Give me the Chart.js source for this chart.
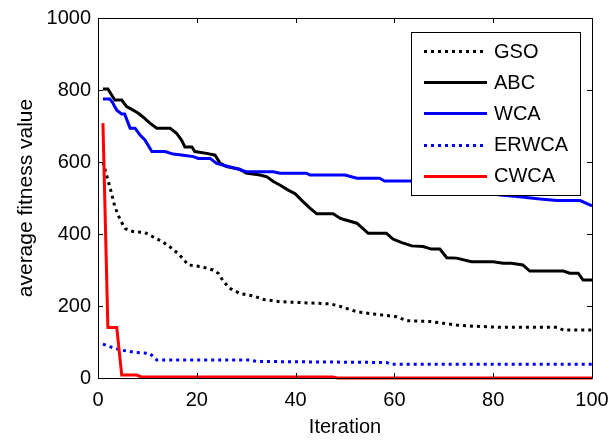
<!DOCTYPE html>
<html>
<head>
<meta charset="utf-8">
<script src="https://cdn.jsdelivr.net/npm/chart.js@4/dist/chart.umd.min.js"></script>
<style>
  html, body { margin: 0; padding: 0; background: #fff; }
  #wrap { width: 609px; height: 441px; }
</style>
</head>
<body>
<div id="wrap"><canvas id="myChart" width="609" height="441"></canvas></div>
<script>
"use strict";

// data (iteration, average fitness)
var gsoX = [1, 2, 2.8, 3.4, 4.5, 5.5, 7, 9.5, 11, 13, 15, 16.5, 18.3, 21, 23.3, 24.4, 25.4, 26.7, 28.7, 31.4, 33.5, 36.8, 43.5, 47, 49, 52.4, 55.7, 60.5, 62.5, 67.2, 72.6, 76, 81, 93, 94.2, 100];
var gsoY = [600, 550, 510, 476, 439, 415, 407, 404, 393, 379, 360, 342, 314, 309, 300, 290, 268, 249, 235, 228, 218, 212, 208, 206, 199, 184, 178, 170, 159, 157, 147, 144, 141, 141, 133, 133];

var abcX = [1, 2, 3.4, 4.8, 5.8, 7.1, 8.1, 9.1, 10.5, 11.9, 14.6, 15.9, 16.9, 17.6, 19, 19.6, 22, 23.7, 24.7, 26, 28.7, 30, 32.8, 34.2, 35.5, 36.8, 38.5, 39.9, 41.5, 42.9, 44.3, 47.6, 49, 49.6, 52.4, 54.7, 58.4, 59.7, 61.5, 63.5, 65.8, 67.5, 69.2, 70.6, 72.6, 75.6, 80, 82, 83.7, 86, 87.4, 94.2, 95.5, 97.2, 98.2, 100];
var abcY = [803, 803, 772, 772, 754, 744, 736, 725, 708, 694, 694, 680, 661, 642, 642, 629, 624, 619, 597, 587, 580, 569, 564, 559, 546, 536, 522, 512, 490, 472, 456, 456, 444, 441, 430, 402, 402, 386, 376, 367, 365, 358, 358, 334, 333, 323, 323, 319, 319, 314, 297, 297, 291, 291, 272, 272];

var wcaX = [1, 2.4, 3, 3.8, 4.8, 5.4, 6.5, 7.5, 8.5, 9.5, 10.9, 13.6, 15.2, 17.3, 19.3, 20.3, 22.7, 24, 26, 28, 30, 35.5, 36.8, 42.2, 42.9, 50, 52.4, 57, 58, 63.2, 68, 73, 78, 81.4, 84.8, 89.5, 92.9, 97.6, 100];
var wcaY = [775, 775, 764, 744, 733, 733, 694, 694, 675, 661, 629, 629, 622, 619, 615, 610, 610, 596, 589, 582, 573, 573, 569, 569, 564, 564, 555, 555, 547, 547, 538, 528, 515, 508, 504, 497, 493, 493, 478];

var erwcaX = [1, 2.4, 4.5, 7.5, 10.5, 11.9, 30.8, 32.1, 58.4, 59.4, 100];
var erwcaY = [94, 87, 78, 71, 68, 50, 50, 46, 43, 38, 38];

var cwcaX = [1, 2, 3.8, 4.8, 7.8, 8.8, 47.5, 48.5, 100];
var cwcaY = [708, 140, 140, 8, 8, 3, 3, 0, 0];

var xTicks = [0, 20, 40, 60, 80, 100];
var yTicks = [0, 200, 400, 600, 800, 1000];

function pts(xs, ys) {
  return xs.map(function (x, i) { return { x: x, y: ys[i] }; });
}

var font = "'Liberation Sans', Arial, sans-serif";

// box, inward ticks and legend like the matlab figure
var matlabBox = {
  id: 'matlabBox',
  afterDraw: function (chart) {
    var c = chart.ctx, a = chart.chartArea;
    var sx = chart.scales.x, sy = chart.scales.y;
    c.save();
    c.strokeStyle = '#000';
    c.lineWidth = 1;
    c.strokeRect(Math.round(a.left) + 0.5, Math.round(a.top) + 0.5, Math.round(a.right - a.left), Math.round(a.bottom - a.top));
    c.beginPath();
    xTicks.forEach(function (v) {
      var px = Math.round(sx.getPixelForValue(v)) + 0.5;
      c.moveTo(px, a.bottom); c.lineTo(px, a.bottom - 5);
      c.moveTo(px, a.top); c.lineTo(px, a.top + 5);
    });
    yTicks.forEach(function (v) {
      var py = Math.round(sy.getPixelForValue(v)) + 0.5;
      c.moveTo(a.left, py); c.lineTo(a.left + 5, py);
      c.moveTo(a.right, py); c.lineTo(a.right - 5, py);
    });
    c.stroke();

    // legend
    var lx = 411, ly = 32, lw = 169, lh = 163;
    c.fillStyle = '#fff';
    c.fillRect(lx, ly, lw, lh);
    c.strokeRect(lx + 0.5, ly + 0.5, lw, lh);
    c.font = '20px ' + font;
    c.textBaseline = 'middle';
    chart.data.datasets.forEach(function (ds, i) {
      var y = 51 + i * 31.2;
      c.strokeStyle = ds.borderColor;
      c.lineWidth = ds.borderWidth;
      c.setLineDash(ds.borderDash || []);
      c.beginPath();
      c.moveTo(424, Math.round(y) + 0.5);
      c.lineTo(487, Math.round(y) + 0.5);
      c.stroke();
      c.setLineDash([]);
      c.fillStyle = '#000';
      c.fillText(ds.label, 494, y + 1);
    });
    c.restore();
  }
};

var ctx = document.getElementById('myChart').getContext('2d');
var chart = new Chart(ctx, {
  type: 'line',
  data: {
    datasets: [
      { label: 'GSO', data: pts(gsoX, gsoY), borderColor: '#000000', borderWidth: 3, borderDash: [3, 4], order: 4 },
      { label: 'ABC', data: pts(abcX, abcY), borderColor: '#000000', borderWidth: 3, order: 3 },
      { label: 'WCA', data: pts(wcaX, wcaY), borderColor: '#0000ff', borderWidth: 3, order: 2 },
      { label: 'ERWCA', data: pts(erwcaX, erwcaY), borderColor: '#0000ff', borderWidth: 3, borderDash: [3, 4], order: 1 },
      { label: 'CWCA', data: pts(cwcaX, cwcaY), borderColor: '#ff0000', borderWidth: 3, order: 0 }
    ]
  },
  options: {
    responsive: false,
    animation: false,
    clip: false,
    elements: { point: { radius: 0 }, line: { tension: 0, fill: false } },
    layout: { padding: { top: 18, right: 17, left: 0, bottom: 0 } },
    plugins: { legend: { display: false }, tooltip: { enabled: false } },
    scales: {
      x: {
        type: 'linear', min: 0, max: 100,
        afterBuildTicks: function (s) { s.ticks = xTicks.map(function (v) { return { value: v }; }); },
        afterFit: function (s) { s.height = 63; s.paddingLeft = 0; s.paddingRight = 0; },
        grid: { display: false, drawTicks: false },
        border: { display: false },
        ticks: { color: '#000', font: { family: font, size: 20 }, padding: 10, maxRotation: 0,
          callback: function (v) { return String(v); } },
        title: { display: true, text: 'Iteration', color: '#000', font: { family: font, size: 20 }, padding: { top: 0, bottom: 2 } }
      },
      y: {
        min: 0, max: 1000,
        afterBuildTicks: function (s) { s.ticks = yTicks.map(function (v) { return { value: v }; }); },
        afterFit: function (s) { s.width = 98; s.paddingTop = 0; s.paddingBottom = 0; },
        grid: { display: false, drawTicks: false },
        border: { display: false },
        ticks: { color: '#000', font: { family: font, size: 20 }, padding: 7,
          callback: function (v) { return String(v); } },
        title: { display: true, text: 'average fitness value', color: '#000', font: { family: font, size: 21 }, padding: { top: 14, bottom: 0 } }
      }
    }
  },
  plugins: [matlabBox]
});
</script>
</body>
</html>
